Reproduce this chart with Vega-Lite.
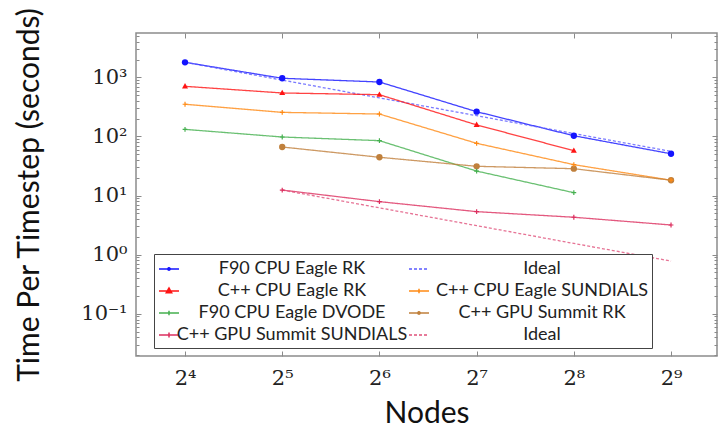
{
  "$schema": "https://vega.github.io/schema/vega-lite/v6.json",
  "width": 581,
  "height": 323,
  "autosize": {"type": "none"},
  "padding": {"left": 136, "top": 33, "right": 2, "bottom": 83},
  "background": "white",
  "config": {
    "view": {"stroke": "#8c8c8c", "strokeWidth": 1.5},
    "axis": {"grid": false, "domain": false, "tickColor": "#8a8a8a", "tickWidth": 1}
  },
  "data": {
    "values": [
      {"series": "F90 CPU Eagle RK", "nodes": 16, "time": 1800},
      {"series": "F90 CPU Eagle RK", "nodes": 32, "time": 966},
      {"series": "F90 CPU Eagle RK", "nodes": 64, "time": 836},
      {"series": "F90 CPU Eagle RK", "nodes": 128, "time": 263},
      {"series": "F90 CPU Eagle RK", "nodes": 256, "time": 103},
      {"series": "F90 CPU Eagle RK", "nodes": 512, "time": 51},
      {"series": "Ideal (F90 CPU Eagle RK)", "nodes": 16, "time": 1800},
      {"series": "Ideal (F90 CPU Eagle RK)", "nodes": 32, "time": 900},
      {"series": "Ideal (F90 CPU Eagle RK)", "nodes": 64, "time": 450},
      {"series": "Ideal (F90 CPU Eagle RK)", "nodes": 128, "time": 225},
      {"series": "Ideal (F90 CPU Eagle RK)", "nodes": 256, "time": 112},
      {"series": "Ideal (F90 CPU Eagle RK)", "nodes": 512, "time": 56},
      {"series": "C++ CPU Eagle RK", "nodes": 16, "time": 706},
      {"series": "C++ CPU Eagle RK", "nodes": 32, "time": 545},
      {"series": "C++ CPU Eagle RK", "nodes": 64, "time": 510},
      {"series": "C++ CPU Eagle RK", "nodes": 128, "time": 157},
      {"series": "C++ CPU Eagle RK", "nodes": 256, "time": 57.5},
      {"series": "C++ CPU Eagle SUNDIALS", "nodes": 16, "time": 351},
      {"series": "C++ CPU Eagle SUNDIALS", "nodes": 32, "time": 256},
      {"series": "C++ CPU Eagle SUNDIALS", "nodes": 64, "time": 240},
      {"series": "C++ CPU Eagle SUNDIALS", "nodes": 128, "time": 76.7},
      {"series": "C++ CPU Eagle SUNDIALS", "nodes": 256, "time": 33.4},
      {"series": "C++ CPU Eagle SUNDIALS", "nodes": 512, "time": 18.2},
      {"series": "F90 CPU Eagle DVODE", "nodes": 16, "time": 132},
      {"series": "F90 CPU Eagle DVODE", "nodes": 32, "time": 98},
      {"series": "F90 CPU Eagle DVODE", "nodes": 64, "time": 85},
      {"series": "F90 CPU Eagle DVODE", "nodes": 128, "time": 26},
      {"series": "F90 CPU Eagle DVODE", "nodes": 256, "time": 11.2},
      {"series": "C++ GPU Summit RK", "nodes": 32, "time": 66.4},
      {"series": "C++ GPU Summit RK", "nodes": 64, "time": 44.5},
      {"series": "C++ GPU Summit RK", "nodes": 128, "time": 31.3},
      {"series": "C++ GPU Summit RK", "nodes": 256, "time": 28.5},
      {"series": "C++ GPU Summit RK", "nodes": 512, "time": 18.2},
      {"series": "C++ GPU Summit SUNDIALS", "nodes": 32, "time": 12.4},
      {"series": "C++ GPU Summit SUNDIALS", "nodes": 64, "time": 7.9},
      {"series": "C++ GPU Summit SUNDIALS", "nodes": 128, "time": 5.35},
      {"series": "C++ GPU Summit SUNDIALS", "nodes": 256, "time": 4.3},
      {"series": "C++ GPU Summit SUNDIALS", "nodes": 512, "time": 3.18},
      {"series": "Ideal (C++ GPU Summit SUNDIALS)", "nodes": 32, "time": 12.4},
      {"series": "Ideal (C++ GPU Summit SUNDIALS)", "nodes": 64, "time": 6.2},
      {"series": "Ideal (C++ GPU Summit SUNDIALS)", "nodes": 128, "time": 3.1},
      {"series": "Ideal (C++ GPU Summit SUNDIALS)", "nodes": 256, "time": 1.55},
      {"series": "Ideal (C++ GPU Summit SUNDIALS)", "nodes": 512, "time": 0.78}
    ]
  },
  "resolve": {"axis": {"x": "independent", "y": "independent"}},
  "layer": [
    {
      "description": "Key layer: invisible points whose color, shape and dash scales build the legend entries (line sample plus marker).",
      "mark": {"type": "point", "filled": false, "size": 1, "strokeWidth": 1.5, "opacity": 0},
      "encoding": {
        "x": {"field": "nodes", "type": "quantitative", "axis": null},
        "y": {"field": "time", "type": "quantitative", "axis": null},
        "color": {
          "field": "series", "type": "nominal",
          "legend": {
            "orient": "none", "legendX": 18, "legendY": 221,
            "title": null, "columns": 2, "direction": "horizontal",
            "padding": 4, "strokeColor": "#444", "fillColor": "white",
            "symbolSize": 400, "symbolStrokeWidth": 1.5, "symbolOpacity": 1,
            "labelFont": "Lato", "labelFontSize": 18, "labelColor": "#222",
            "labelAlign": "center", "labelOffset": 112, "labelLimit": 400,
            "columnPadding": -3, "rowPadding": 2,
            "labelExpr": "indexof(datum.label, 'Ideal') === 0 ? 'Ideal' : datum.label"
          }
        },
        "shape": {
          "field": "series", "type": "nominal",
          "scale": {
            "domain": ["F90 CPU Eagle RK", "Ideal (F90 CPU Eagle RK)", "C++ CPU Eagle RK", "C++ CPU Eagle SUNDIALS", "F90 CPU Eagle DVODE", "C++ GPU Summit RK", "C++ GPU Summit SUNDIALS", "Ideal (C++ GPU Summit SUNDIALS)"],
            "range": [
              "M-1,0H1M0.12,0A0.12,0.12,0,1,1,-0.12,0A0.12,0.12,0,1,1,0.12,0Z",
              "M-1,0H1",
              "M-1,0H1M0,-0.3L0.27,0.18L-0.27,0.18ZM0,-0.14L0.13,0.09L-0.13,0.09Z",
              "M-1,0H1M0,-0.22V0.22",
              "M-1,0H1M0,-0.22V0.22",
              "M-1,0H1M0.12,0A0.12,0.12,0,1,1,-0.12,0A0.12,0.12,0,1,1,0.12,0Z",
              "M-1,0H1M0,-0.25V0.25",
              "M-1,0H1"
            ]
          },
          "legend": {
            "orient": "none", "legendX": 18, "legendY": 221,
            "title": null, "columns": 2, "direction": "horizontal",
            "padding": 4, "strokeColor": "#444", "fillColor": "white",
            "symbolSize": 400, "symbolStrokeWidth": 1.5, "symbolOpacity": 1,
            "labelFont": "Lato", "labelFontSize": 18, "labelColor": "#222",
            "labelAlign": "center", "labelOffset": 112, "labelLimit": 400,
            "columnPadding": -3, "rowPadding": 2,
            "labelExpr": "indexof(datum.label, 'Ideal') === 0 ? 'Ideal' : datum.label"
          }
        },
        "strokeDash": {
          "field": "series", "type": "nominal",
          "legend": {
            "orient": "none", "legendX": 18, "legendY": 221,
            "title": null, "columns": 2, "direction": "horizontal",
            "padding": 4, "strokeColor": "#444", "fillColor": "white",
            "symbolSize": 400, "symbolStrokeWidth": 1.5, "symbolOpacity": 1,
            "labelFont": "Lato", "labelFontSize": 18, "labelColor": "#222",
            "labelAlign": "center", "labelOffset": 112, "labelLimit": 400,
            "columnPadding": -3, "rowPadding": 2,
            "labelExpr": "indexof(datum.label, 'Ideal') === 0 ? 'Ideal' : datum.label"
          }
        }
      }
    },
    {
      "mark": {"type": "line", "strokeWidth": 1.3, "opacity": 0.8},
      "encoding": {
        "x": {
          "field": "nodes", "type": "quantitative",
          "scale": {"type": "log", "base": 2, "domain": [11.28, 710.6], "nice": false},
          "axis": {
            "orient": "bottom",
            "values": [16, 32, 64, 128, 256, 512],
            "labelExpr": "['2⁴','2⁵','2⁶','2⁷','2⁸','2⁹'][round(log(datum.value)/log(2)) - 4]",
            "labelFont": "DejaVu Serif", "labelFontSize": 21, "labelColor": "#222",
            "labelPadding": 16, "tickSize": -5,
            "title": "Nodes", "titleFont": "Lato", "titleFontSize": 30, "titleFontWeight": "normal",
            "titleColor": "#111", "titlePadding": 10
          }
        },
        "y": {
          "field": "time", "type": "quantitative",
          "scale": {"type": "log", "domain": [0.0193, 5640], "nice": false},
          "axis": {
            "orient": "left",
            "values": [0.02, 0.03, 0.04, 0.05, 0.06, 0.07, 0.08, 0.09, 0.1, 0.2, 0.3, 0.4, 0.5, 0.6, 0.7, 0.8, 0.9, 1, 2, 3, 4, 5, 6, 7, 8, 9, 10, 20, 30, 40, 50, 60, 70, 80, 90, 100, 200, 300, 400, 500, 600, 700, 800, 900, 1000, 2000, 3000, 4000, 5000],
            "labelExpr": "datum.value == 1000 ? '10³' : datum.value == 100 ? '10²' : datum.value == 10 ? '10¹' : datum.value == 1 ? '10⁰' : datum.value == 0.1 ? '10⁻¹' : ''",
            "labelFont": "DejaVu Serif", "labelFontSize": 21, "labelColor": "#222",
            "labelPadding": 14,
            "tickSize": {"condition": {"test": "indexof([0.1, 1, 10, 100, 1000], datum.value) >= 0", "value": -5}, "value": -3},
            "title": "Time Per Timestep (seconds)", "titleFont": "Lato", "titleFontSize": 30, "titleFontWeight": "normal",
            "titleColor": "#111", "titlePadding": 36
          }
        },
        "color": {
          "field": "series", "type": "nominal",
          "scale": {
            "domain": ["F90 CPU Eagle RK", "Ideal (F90 CPU Eagle RK)", "C++ CPU Eagle RK", "C++ CPU Eagle SUNDIALS", "F90 CPU Eagle DVODE", "C++ GPU Summit RK", "C++ GPU Summit SUNDIALS", "Ideal (C++ GPU Summit SUNDIALS)"],
            "range": ["#1414ff", "#5a5aff", "#ff1414", "#ff8a14", "#45b04f", "#c0803c", "#dc2f5f", "#e0507a"]
          }
        },
        "strokeDash": {
          "field": "series", "type": "nominal",
          "scale": {
            "domain": ["F90 CPU Eagle RK", "Ideal (F90 CPU Eagle RK)", "C++ CPU Eagle RK", "C++ CPU Eagle SUNDIALS", "F90 CPU Eagle DVODE", "C++ GPU Summit RK", "C++ GPU Summit SUNDIALS", "Ideal (C++ GPU Summit SUNDIALS)"],
            "range": [[1, 0], [3, 2], [1, 0], [1, 0], [1, 0], [1, 0], [1, 0], [3, 2]]
          }
        }
      }
    },
    {
      "transform": [{"filter": "datum.series === 'F90 CPU Eagle RK' || datum.series === 'C++ GPU Summit RK'"}],
      "mark": {"type": "point", "filled": true, "shape": "circle", "size": 40, "opacity": 1},
      "encoding": {
        "x": {
          "field": "nodes", "type": "quantitative",
          "axis": {"orient": "top", "values": [16, 32, 64, 128, 256, 512], "labels": false, "tickSize": -5, "title": null}
        },
        "y": {
          "field": "time", "type": "quantitative",
          "axis": {
            "orient": "right", "labels": false, "title": null,
            "values": [0.02, 0.03, 0.04, 0.05, 0.06, 0.07, 0.08, 0.09, 0.1, 0.2, 0.3, 0.4, 0.5, 0.6, 0.7, 0.8, 0.9, 1, 2, 3, 4, 5, 6, 7, 8, 9, 10, 20, 30, 40, 50, 60, 70, 80, 90, 100, 200, 300, 400, 500, 600, 700, 800, 900, 1000, 2000, 3000, 4000, 5000],
            "tickSize": {"condition": {"test": "indexof([0.1, 1, 10, 100, 1000], datum.value) >= 0", "value": -5}, "value": -3}
          }
        },
        "color": {"field": "series", "type": "nominal"}
      }
    },
    {
      "transform": [{"filter": "datum.series === 'C++ CPU Eagle RK'"}],
      "mark": {"type": "point", "filled": true, "shape": "M0,-1.1L1,0.7L-1,0.7Z", "size": 36, "opacity": 1},
      "encoding": {
        "x": {"field": "nodes", "type": "quantitative", "axis": null},
        "y": {"field": "time", "type": "quantitative", "axis": null},
        "color": {"field": "series", "type": "nominal"}
      }
    },
    {
      "transform": [{"filter": "datum.series === 'C++ CPU Eagle SUNDIALS' || datum.series === 'F90 CPU Eagle DVODE' || datum.series === 'C++ GPU Summit SUNDIALS'"}],
      "mark": {"type": "point", "filled": false, "shape": "M0,-0.8V0.8M-0.8,0H0.8", "size": 36, "strokeWidth": 1.2, "opacity": 1},
      "encoding": {
        "x": {"field": "nodes", "type": "quantitative", "axis": null},
        "y": {"field": "time", "type": "quantitative", "axis": null},
        "color": {"field": "series", "type": "nominal"}
      }
    }
  ]
}
